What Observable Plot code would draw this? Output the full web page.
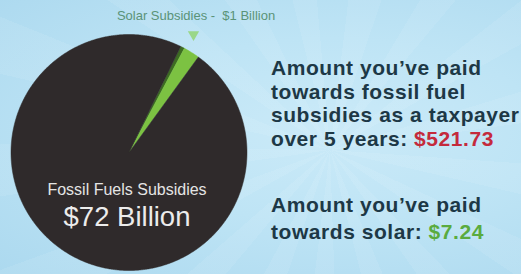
<!DOCTYPE html>
<html>
<head>
<meta charset="utf-8">
<script src="https://cdn.jsdelivr.net/npm/d3@7"></script>
<script src="https://cdn.jsdelivr.net/npm/@observablehq/plot@0.6"></script>
<style>
  html, body { margin: 0; padding: 0; width: 521px; height: 274px; overflow: hidden; }
  body {
    background:
      repeating-conic-gradient(from 10deg at 330px 150px, rgba(255,255,255,0.08) 0deg 9deg, rgba(255,255,255,0) 9deg 21deg),
      radial-gradient(ellipse at 330px 130px, #cbeaf8 0%, #bee4f5 45%, #acd9ef 100%);
  }
  #chart svg { display: block; }
  #chart g[font-weight="bold"] { letter-spacing: 0.55px; }
</style>
</head>
<body>
<div id="chart"></div>
<script>
// ---- data ----
const categories = ["Solar Subsidies", "Fossil Fuels Subsidies"];
const subsidiesBillion = [1, 72];
const solarLabel = "Solar Subsidies -  $1 Billion";
const fossilLabel = "Fossil Fuels Subsidies";
const fossilValueLabel = "$72 Billion";
const block1Lines = ["Amount you\u2019ve paid", "towards fossil fuel", "subsidies as a taxpayer", "over 5 years: "];
const block1Amount = "$521.73";
const block2Lines = ["Amount you\u2019ve paid", "towards solar: "];
const block2Amount = "$7.24";

// ---- layout / style ----
const W = 521, H = 274;
const cx = 128.5, cy = 152, R = 118;
const startDeg = 26;          // where the solar slice begins (clockwise from top)
const minSliceDeg = 10;       // minimum drawn angle so the tiny slice is visible
const bevelFrac = 0.2;        // darker edge part of the solar slice
const font = "'Liberation Sans', Arial, Helvetica, sans-serif";
const textDark = "#1d3846";
const bodySize = 21, letterSp = 0.55;

// slice angles from values
const total = d3.sum(subsidiesBillion);
const solarDeg = Math.max(subsidiesBillion[0] / total * 360, minSliceDeg);
const slices = [
  {name: categories[0] + " edge", a0: startDeg, a1: startDeg + solarDeg * bevelFrac, fill: "#3d6b22"},
  {name: categories[0], a0: startDeg + solarDeg * bevelFrac, a1: startDeg + solarDeg, fill: "#7cc242"},
  {name: categories[1], a0: startDeg + solarDeg, a1: startDeg + 360, fill: "#2f2a2b"}
];
function slicePoints(s) {
  const pts = [{x: cx, y: cy}];
  const n = Math.max(2, Math.ceil((s.a1 - s.a0) / 0.5));
  for (let i = 0; i <= n; i++) {
    const a = (s.a0 + (s.a1 - s.a0) * i / n) * Math.PI / 180;
    pts.push({x: cx + R * Math.sin(a), y: cy - R * Math.cos(a)});
  }
  pts.push({x: cx, y: cy});
  return pts;
}

// text measuring for coloured amounts following dark text
const ctx = document.createElement("canvas").getContext("2d");
ctx.font = `bold ${bodySize}px 'Liberation Sans'`;
const measure = t => ctx.measureText(t).width + t.length * letterSp;
const tx = 270.5;
const b1Base = [74.5, 98, 121.5, 145];
const b2Base = [211.5, 238.5];
const b1 = block1Lines.map((t, i) => ({t, x: tx, y: b1Base[i]}));
const b2 = block2Lines.map((t, i) => ({t, x: tx, y: b2Base[i]}));
const amt1 = [{t: block1Amount, x: tx + measure(block1Lines[3]), y: b1Base[3]}];
const amt2 = [{t: block2Amount, x: tx + measure(block2Lines[1]), y: b2Base[1]}];

const marks = slices.map(s => Plot.line(slicePoints(s), {x: "x", y: "y", fill: s.fill, stroke: s.fill, strokeWidth: 0.5, curve: "linear"}));

const bodyText = {x: "x", y: "y", text: "t", fontSize: bodySize, fontWeight: "bold", textAnchor: "start", lineAnchor: "bottom", fontFamily: font};
marks.push(
  Plot.dot([{x: 193, y: 34}], {x: "x", y: "y", symbol: "triangle", r: 4.2, rotate: 180, fill: "#86cf4e", fillOpacity: 0.65, stroke: "none"}),
  Plot.text([{t: solarLabel, x: 195.5, y: 19}], {x: "x", y: "y", text: "t", fontSize: 13, fill: "#5a9378", textAnchor: "middle", lineAnchor: "bottom", fontFamily: font}),
  Plot.text([{t: fossilLabel, x: 126.5, y: 194.5}], {x: "x", y: "y", text: "t", fontSize: 16, fill: "#e4e4e4", textAnchor: "middle", lineAnchor: "bottom", fontFamily: font}),
  Plot.text([{t: fossilValueLabel, x: 126.5, y: 225.5}], {x: "x", y: "y", text: "t", fontSize: 27.5, fill: "#ececec", textAnchor: "middle", lineAnchor: "bottom", fontFamily: font}),
  Plot.text(b1.concat(b2), {...bodyText, fill: textDark}),
  Plot.text(amt1, {...bodyText, fill: "#c42a3c"}),
  Plot.text(amt2, {...bodyText, fill: "#5aab3e"})
);

const chart = Plot.plot({
  width: W, height: H,
  margin: 0,
  x: {domain: [0, W], range: [0, W], axis: null},
  y: {domain: [0, H], range: [0, H], axis: null},
  style: {background: "none", overflow: "hidden"},
  marks
});
document.getElementById("chart").appendChild(chart);
</script>
</body>
</html>
